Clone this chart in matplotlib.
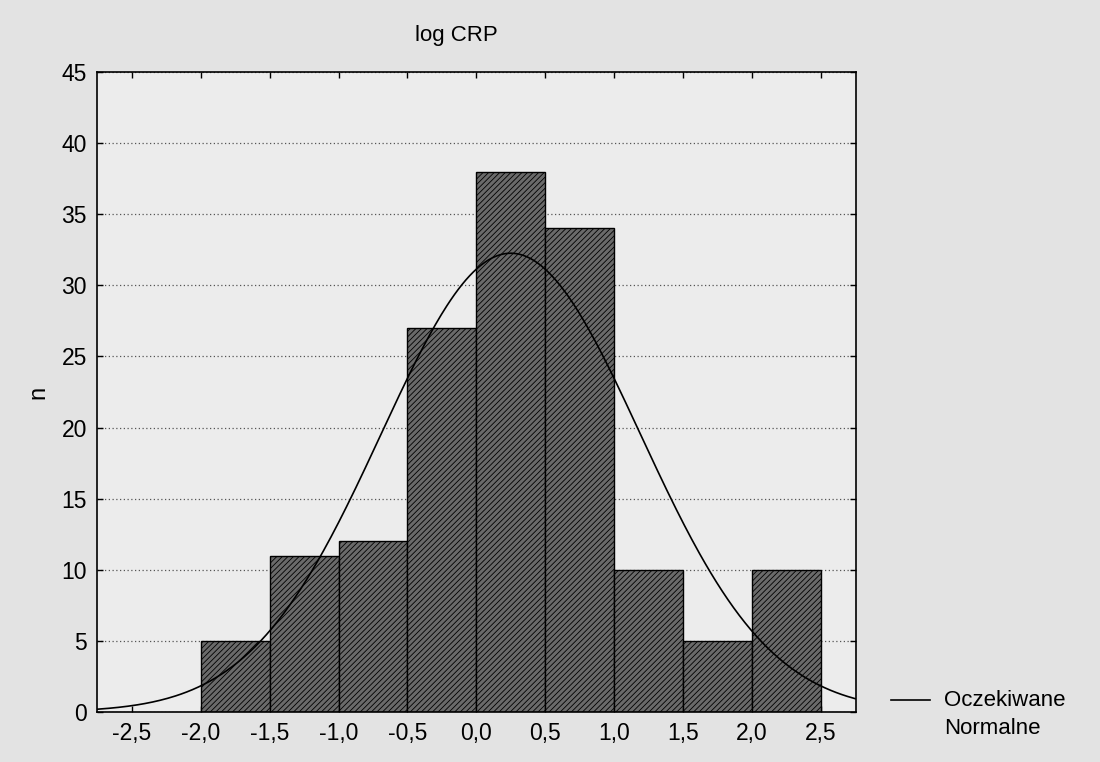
import numpy as np
import matplotlib.pyplot as plt
from matplotlib.lines import Line2D

plt.rcParams['font.family'] = ['Liberation Sans', 'DejaVu Sans']

# histogram of log CRP
bin_edges = [-2.0, -1.5, -1.0, -0.5, 0.0, 0.5, 1.0, 1.5, 2.0, 2.5]
counts = [5, 11, 12, 27, 38, 34, 10, 5, 10]

# expected normal (fitted parameters)
fit_mean = 0.25
fit_sd = 0.94

x_ticks = [-2.5, -2.0, -1.5, -1.0, -0.5, 0.0, 0.5, 1.0, 1.5, 2.0, 2.5]
x_labels = ["-2,5", "-2,0", "-1,5", "-1,0", "-0,5", "0,0", "0,5", "1,0", "1,5", "2,0", "2,5"]
y_ticks = [0, 5, 10, 15, 20, 25, 30, 35, 40, 45]


def main():
    fig = plt.figure(figsize=(11, 7.62), dpi=100, facecolor="#e3e3e3")
    ax = fig.add_axes([0.088, 0.0656, 0.69, 0.84])
    ax.set_facecolor("#ececec")

    edges = np.array(bin_edges)
    widths = np.diff(edges)
    plt.rcParams['hatch.linewidth'] = 0.6
    plt.rcParams['hatch.color'] = "#353535"
    ax.bar(edges[:-1], counts, width=widths, align="edge", color="#6a6a6a",
           edgecolor="black", linewidth=1.0, hatch="//////", zorder=2)

    # expected normal curve, scaled to counts
    n = sum(counts)
    bw = widths[0]
    xx = np.linspace(-2.75, 2.75, 400)
    yy = n * bw / (fit_sd * np.sqrt(2 * np.pi)) * np.exp(-(xx - fit_mean) ** 2 / (2 * fit_sd ** 2))
    ax.plot(xx, yy, color="black", linewidth=1.2, zorder=3)

    ax.set_xlim(-2.755, 2.755)
    ax.set_ylim(0, 45)
    ax.set_xticks(x_ticks)
    ax.set_xticklabels(x_labels)
    ax.set_yticks(y_ticks)
    ax.yaxis.grid(True, linestyle=(0, (1, 2)), color="#555555", linewidth=0.9, zorder=1)
    ax.set_axisbelow(True)
    ax.tick_params(direction="in", length=4, width=1, top=True, right=True,
                   labelsize=16.5, pad=7)
    for s in ax.spines.values():
        s.set_linewidth(1.2)

    fig.text(0.415, 0.954, "log CRP", fontsize=16, ha="center", va="center")
    fig.text(0.035, 0.485, "n", fontsize=17, rotation=90, ha="center", va="center")

    # legend
    fig.add_artist(Line2D([0.81, 0.845], [0.081, 0.081], color="black", linewidth=1.2))
    fig.text(0.858, 0.081, "Oczekiwane", fontsize=16, ha="left", va="center")
    fig.text(0.858, 0.044, "Normalne", fontsize=16, ha="left", va="center")

    fig.savefig("out.png", dpi=100, facecolor=fig.get_facecolor())


if(__name__ == "__main__"):
    main()
